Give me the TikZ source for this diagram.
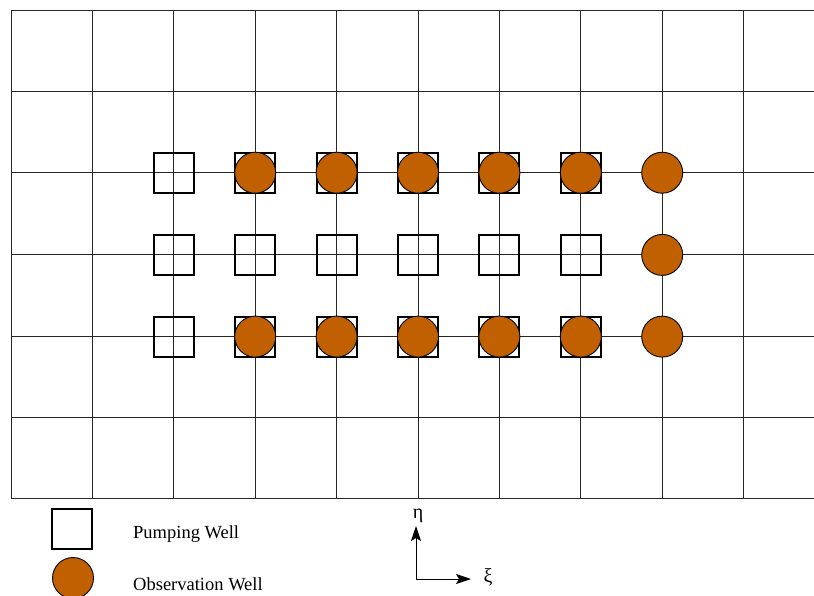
\documentclass[tikz,border=0pt]{standalone}
\usepackage{fontspec}
\setmainfont{Liberation Serif}
\usetikzlibrary{arrows.meta}
\definecolor{obs}{RGB}{192,96,0}
\tikzset{
  gridline/.style={line width=1pt, black!85},
  pwell/.style={draw=black, line width=2pt, minimum size=40pt, inner sep=0pt, fill=none},
  owell/.style={circle, draw=black, line width=0.9pt, fill=obs, minimum size=41pt, inner sep=0pt},
  lbl/.style={anchor=west, inner sep=0pt, font=\fontsize{18.5}{20}\selectfont},
  axis/.style={line width=1pt, -{Stealth[length=15pt,width=10pt,inset=3pt]}}
}
\begin{document}
\begin{tikzpicture}[x=1pt,y=-1pt]
\useasboundingbox (0,0) rectangle (814,595);
% grid
\foreach \xx in {11,92.4,173.8,255.2,336.6,418,499.4,580.8,662.2,743.6}
  \draw[gridline] (\xx,10) -- (\xx,498);
\foreach \yy in {10,91.3,172.7,254.9,336.6,417.5,498}
  \draw[gridline] (11,\yy) -- (814,\yy);
% wells
\foreach \r/\yy in {a/172.7,b/254.9,c/336.6}{
  \foreach \c/\xx in {1/173.8,2/255.2,3/336.6,4/418,5/499.4,6/580.8}
    \node[pwell] (p\r\c) at (\xx,\yy) {};
}
\foreach \r/\yy in {a/172.7,c/336.6}{
  \foreach \c/\xx in {2/255.2,3/336.6,4/418,5/499.4,6/580.8}
    \node[owell] (o\r\c) at (\xx,\yy) {};
}
\foreach \r/\yy in {a/172.7,b/254.9,c/336.6}
  \node[owell] (o\r7) at (662.2,\yy) {};
% legend
\node[pwell] (lp) at (72,529) {};
\node[owell] (lo) at (73,578) {};
\node[lbl] (tp) at (133,534) {Pumping Well};
\node[lbl] (to) at (133,584) {Observation Well};
% axes
\coordinate (org) at (416,579);
\coordinate (up) at (416,526);
\coordinate (rt) at (471,579);
\draw[axis] (org) -- (up);
\draw[axis] (org) -- (rt);
\node[font=\fontsize{20}{22}\selectfont, inner sep=0pt] (eta) at (418,516) {η};
\node[font=\fontsize{20}{22}\selectfont, inner sep=0pt] (xi) at (488,577) {ξ};
\end{tikzpicture}
\end{document}
